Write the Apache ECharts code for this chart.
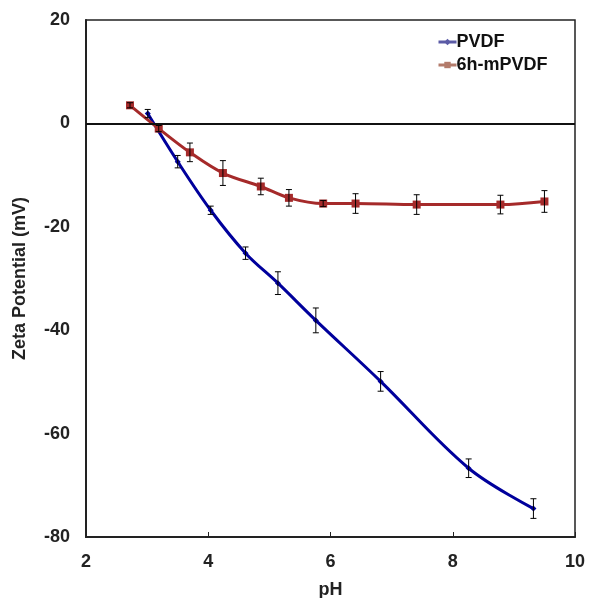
<!DOCTYPE html>
<html><head><meta charset="utf-8">
<script src="https://cdn.jsdelivr.net/npm/echarts@6/dist/echarts.min.js"></script>
<style>html,body{margin:0;padding:0;background:#fff}#c{width:589px;height:598px}</style>
</head><body><div id="c"></div>
<script>
var pvdfX = [3.01, 3.50, 4.04, 4.61, 5.14, 5.76, 6.82, 8.26, 9.32];
var pvdfY = [1.9, -7.4, -16.8, -25.1, -30.9, -38.1, -49.9, -66.7, -74.5];
var pvdfErr = [0.8, 1.2, 0.8, 1.2, 2.2, 2.4, 1.9, 1.8, 1.9];
var mX = [2.72, 3.19, 3.70, 4.24, 4.86, 5.32, 5.88, 6.41, 7.41, 8.78, 9.50];
var mY = [3.5, -1.0, -5.6, -9.6, -12.2, -14.4, -15.5, -15.5, -15.7, -15.7, -15.1];
var mErr = [0.5, 0.6, 1.8, 2.4, 1.6, 1.6, 0.6, 1.9, 1.9, 1.8, 2.1];
var xTicks = [2, 4, 6, 8, 10];
var yTicks = [20, 0, -20, -40, -60, -80];

function pairs(xs, ys){ return xs.map(function(x,i){return [x, ys[i]];}); }
function errData(xs, ys, es){ return xs.map(function(x,i){return [x, ys[i]-es[i], ys[i]+es[i]];}); }
function renderErr(params, api){
  var x = api.value(0);
  var lo = api.coord([x, api.value(1)]);
  var hi = api.coord([x, api.value(2)]);
  var w = 3;
  var st = {stroke:'#000', lineWidth:1};
  return {type:'group', children:[
    {type:'line', shape:{x1:lo[0], y1:lo[1], x2:hi[0], y2:hi[1]}, style:st},
    {type:'line', shape:{x1:lo[0]-w, y1:lo[1], x2:lo[0]+w, y2:lo[1]}, style:st},
    {type:'line', shape:{x1:hi[0]-w, y1:hi[1], x2:hi[0]+w, y2:hi[1]}, style:st}
  ]};
}
var font = {fontFamily:'Liberation Sans, Arial, sans-serif', fontWeight:'bold', fontSize:18, color:'#222'};
var chart = echarts.init(document.getElementById('c'));
chart.setOption({
  animation:false,
  grid:{left:86, right:14, top:20, bottom:61, show:true, borderColor:'#222', borderWidth:1.5,
        containLabel:false, outerBoundsMode:'none'},
  legend:{
    data:[
      {name:'PVDF', itemStyle:{color:'#5b5ba6'}, lineStyle:{color:'#5b5ba6', width:3}},
      {name:'6h-mPVDF', itemStyle:{color:'#b37b6b'}, lineStyle:{color:'#b37b6b', width:3}}
    ],
    orient:'vertical', left:432, top:28, itemGap:5,
    itemWidth:18, itemHeight:8,
    textStyle:Object.assign({}, font, {color:'#111', padding:[0,0,0,-5]})
  },
  xAxis:{
    type:'value', min:xTicks[0], max:xTicks[xTicks.length-1], interval:2,
    name:'pH', nameLocation:'middle', nameGap:44,
    nameTextStyle:font,
    axisLine:{onZero:false, lineStyle:{color:'#222', width:2}},
    axisTick:{show:true, inside:true, length:5, lineStyle:{color:'#222'}},
    axisLabel:Object.assign({margin:16}, font),
    splitLine:{show:false}
  },
  yAxis:{
    type:'value', min:yTicks[yTicks.length-1], max:yTicks[0], interval:20,
    name:'Zeta Potential (mV)', nameLocation:'middle', nameGap:57,
    nameTextStyle:font,
    axisLine:{lineStyle:{color:'#222', width:2}},
    axisTick:{show:false},
    axisLabel:Object.assign({margin:16}, font),
    splitLine:{show:false}
  },
  series:[
    {name:'PVDF', type:'line', smooth:0.35, data:pairs(pvdfX,pvdfY), symbol:'diamond', symbolSize:6,
     lineStyle:{color:'#00009c', width:3}, itemStyle:{color:'#00009c'}, z:3,
     markLine:{silent:true, symbol:['none','none'], label:{show:false},
       lineStyle:{color:'#111', width:2, type:'solid'}, data:[{yAxis:0}]}},
    {name:'6h-mPVDF', type:'line', smooth:0.35, data:pairs(mX,mY), symbol:'rect', symbolSize:8,
     lineStyle:{color:'#a52a2a', width:3}, itemStyle:{color:'#a52a2a'}, z:3},
    {type:'custom', renderItem:renderErr, data:errData(pvdfX,pvdfY,pvdfErr), encode:{x:0,y:[1,2]}, z:4, silent:true},
    {type:'custom', renderItem:renderErr, data:errData(mX,mY,mErr), encode:{x:0,y:[1,2]}, z:4, silent:true}
  ]
});
</script></body></html>
